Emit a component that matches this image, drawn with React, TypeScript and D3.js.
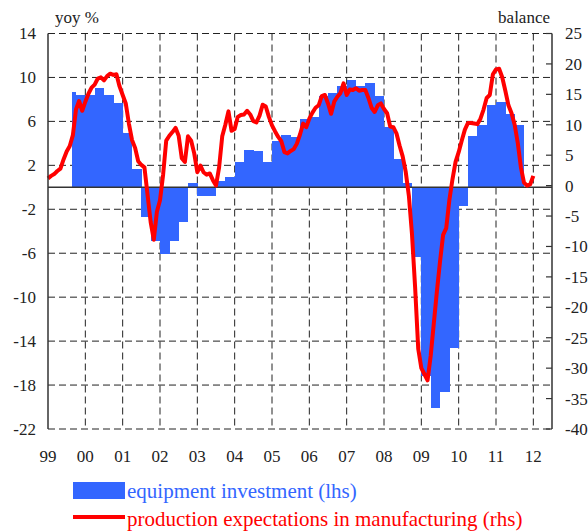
import React, { useRef, useEffect } from 'react';
import * as d3 from 'd3';

// year labels along the bottom
const yearLabels = ['99', '00', '01', '02', '03', '04', '05', '06', '07', '08', '09', '10', '11', '12'];
const leftTicks = [14, 10, 6, 2, -2, -6, -10, -14, -18, -22];
const rightTicks = [25, 20, 15, 10, 5, 0, -5, -10, -15, -20, -25, -30, -35, -40];

// equipment investment, yoy %, quarterly from 1999Q3 to 2011Q3
const firstQuarter = 1999.5;
const barDataStart = 1999.63;
const equipmentInvestment = [
  8.7, 8.4, 8.4, 9.0, 8.4, 7.7, 4.9, 1.7,
  -2.7, -4.9, -6.1, -4.9, -3.2, 0.4, -0.75, -0.75,
  0.6, 0.9, 2.3, 3.4, 3.3, 2.3, 4.2, 4.8,
  4.6, 6.2, 6.4, 8.3, 8.6, 9.2, 9.8, 9.2,
  9.5, 8.3, 5.5, 2.6, 0.4, -6.3, -17.2, -20.1,
  -18.6, -14.6, -1.7, 4.7, 5.7, 7.5, 7.8, 6.7,
  5.7,
];

// production expectations in manufacturing, balance, monthly from Jan 1999 to Jan 2012
const firstMonth = 1999;
const productionExpectations = [
  1.2, 1.6, 1.9, 2.4, 2.8, 4.3, 5.6, 6.5, 8.3, 12.5, 13.9, 12.3,
  13.8, 15.1, 16.1, 16.6, 17.6, 17.8, 17.3, 18.0, 18.4, 18.2, 18.3, 16.3,
  14.9, 13.5, 10.2, 7.5, 6.2, 4.0, 3.4, 3.0, -1.5, -6.0, -8.9, -4.3,
  -2.4, 1.8, 7.4, 8.2, 8.8, 9.5, 8.2, 4.5, 3.9, 8.1, 7.4, 5.3,
  2.2, 3.3, 2.2, 1.8, 2.0, 0.9, 0.0, 3.0, 8.1, 10.0, 12.2, 9.0,
  9.3, 11.3, 11.6, 11.7, 12.3, 11.7, 10.6, 10.4, 11.5, 13.3, 13.0, 11.3,
  9.9, 8.9, 8.0, 7.3, 5.5, 5.3, 5.7, 6.0, 6.9, 8.4, 10.2, 9.6,
  11.0, 12.0, 12.8, 13.2, 14.7, 14.9, 13.5, 11.8, 13.8, 14.6, 15.2, 16.8,
  14.9, 15.8, 15.7, 16.0, 15.6, 15.7, 15.7, 14.4, 12.8, 12.1, 13.2, 13.5,
  12.6, 11.9, 9.7, 9.6, 8.6, 6.6, 4.8, 2.2, -1.7, -8.0, -16.7, -26.8,
  -30.0, -31.0, -32.0, -28.0, -22.7, -17.4, -12.5, -8.1, -7.0, -2.4, 1.0, 3.9,
  5.5, 7.4, 9.2, 10.3, 10.3, 10.2, 10.1, 11.0, 12.5, 14.4, 14.9, 18.3,
  19.1, 19.2, 17.8, 15.6, 13.2, 11.9, 10.0, 7.0, 3.0, 0.5, 0.0, 0.2,
  1.6,
];

const BLUE = '#3366ff';
const RED = '#ff0000';
const INK = '#222';
const FONT = '"Liberation Serif", "Times New Roman", serif';

const App = () => {
  const svgRef = useRef<SVGSVGElement>(null);

  useEffect(() => {
    const svg = d3.select(svgRef.current);
    svg.selectAll('*').remove();

    const left = 48, right = 552, top = 33.5, bottom = 429;

    const x = d3.scaleLinear().domain([1999, 2012.5]).range([left, right]);
    const yL = d3.scaleLinear().domain([-22, 14]).range([bottom, top]);
    const yR = d3.scaleLinear().domain([-40, 25]).range([bottom, top]);

    const grid = svg.append('g')
      .attr('stroke', INK)
      .attr('stroke-width', 1)
      .attr('stroke-dasharray', '7,4');

    // horizontal gridlines on the lhs ticks
    grid.selectAll('.hgrid')
      .data(leftTicks)
      .enter()
      .append('line')
      .attr('x1', left)
      .attr('x2', right)
      .attr('y1', d => yL(d))
      .attr('y2', d => yL(d));

    // vertical gridlines at each year
    grid.selectAll('.vgrid')
      .data(yearLabels.slice(1))
      .enter()
      .append('line')
      .attr('x1', (d, i) => x(2000 + i))
      .attr('x2', (d, i) => x(2000 + i))
      .attr('y1', top)
      .attr('y2', bottom);

    // bars
    svg.append('g')
      .selectAll('rect')
      .data(equipmentInvestment)
      .enter()
      .append('rect')
      .attr('x', (d, i) => x(Math.max(firstQuarter + i * 0.25, barDataStart)))
      .attr('width', (d, i) => x(firstQuarter + (i + 1) * 0.25) - x(Math.max(firstQuarter + i * 0.25, barDataStart)) + 0.4)
      .attr('y', d => yL(Math.max(d, 0)))
      .attr('height', d => Math.abs(yL(d) - yL(0)))
      .attr('fill', BLUE)
      .attr('shape-rendering', 'crispEdges');

    // zero line
    svg.append('line')
      .attr('x1', left)
      .attr('x2', right)
      .attr('y1', yL(0))
      .attr('y2', yL(0))
      .attr('stroke', '#333')
      .attr('stroke-width', 1.5);

    // production expectations line
    const line = d3.line<number>()
      .x((d, i) => x(firstMonth + i / 12))
      .y(d => yR(d));

    svg.append('path')
      .datum(productionExpectations)
      .attr('d', line)
      .attr('fill', 'none')
      .attr('stroke', RED)
      .attr('stroke-width', 4)
      .attr('stroke-linejoin', 'round');

    // axes lines
    svg.append('line')
      .attr('x1', left).attr('x2', left)
      .attr('y1', top).attr('y2', bottom)
      .attr('stroke', '#333').attr('stroke-width', 1.5);
    svg.append('line')
      .attr('x1', right).attr('x2', right)
      .attr('y1', top).attr('y2', bottom)
      .attr('stroke', '#333').attr('stroke-width', 1.5);

    // rhs ticks
    svg.append('g')
      .selectAll('line')
      .data(rightTicks)
      .enter()
      .append('line')
      .attr('x1', right - 6)
      .attr('x2', right)
      .attr('y1', d => yR(d))
      .attr('y2', d => yR(d))
      .attr('stroke', '#333')
      .attr('stroke-width', 1.2);

    const text = svg.append('g')
      .style('font-family', FONT)
      .style('font-size', '17px')
      .attr('fill', INK);

    // lhs labels
    text.selectAll('.ltick')
      .data(leftTicks)
      .enter()
      .append('text')
      .attr('x', 36)
      .attr('y', d => yL(d))
      .attr('dy', '0.35em')
      .attr('text-anchor', 'end')
      .text(d => d);

    // rhs labels
    text.selectAll('.rtick')
      .data(rightTicks)
      .enter()
      .append('text')
      .attr('x', 565)
      .attr('y', d => yR(d))
      .attr('dy', '0.35em')
      .text(d => d);

    // year labels
    text.selectAll('.year')
      .data(yearLabels)
      .enter()
      .append('text')
      .attr('x', (d, i) => x(1999 + i))
      .attr('y', 462)
      .attr('text-anchor', 'middle')
      .text(d => d);

    text.append('text').attr('x', 55).attr('y', 23).text('yoy %');
    text.append('text').attr('x', 550).attr('y', 23).attr('text-anchor', 'end').text('balance');

    // legend
    const legend = svg.append('g')
      .style('font-family', FONT)
      .style('font-size', '21px');

    legend.append('rect')
      .attr('x', 73).attr('y', 482)
      .attr('width', 52).attr('height', 17)
      .attr('fill', BLUE);
    legend.append('text')
      .attr('x', 127).attr('y', 498)
      .attr('fill', BLUE)
      .text('equipment investment (lhs)');

    legend.append('line')
      .attr('x1', 73).attr('x2', 125)
      .attr('y1', 517).attr('y2', 517)
      .attr('stroke', RED)
      .attr('stroke-width', 4);
    legend.append('text')
      .attr('x', 127).attr('y', 526)
      .attr('fill', RED)
      .text('production expectations in manufacturing (rhs)');
  }, []);

  return (
    <svg
      ref={svgRef}
      width={588}
      height={532}
      style={{ position: 'absolute', left: 0, top: 0, background: '#fff' }}
    />
  );
};

export default App;
